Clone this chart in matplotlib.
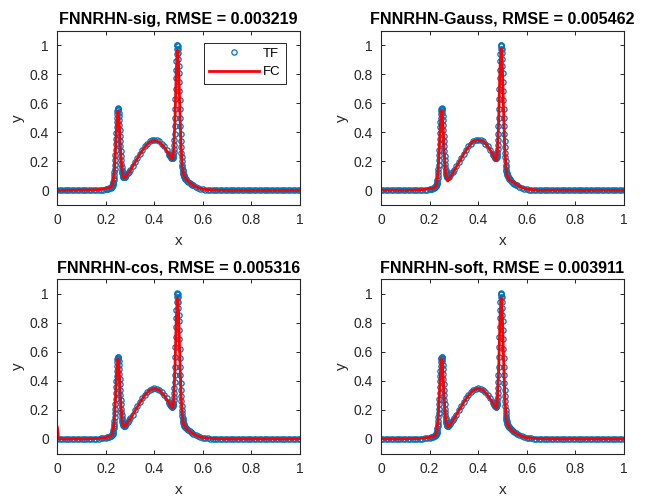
import matplotlib
matplotlib.use('Agg')
import matplotlib.pyplot as plt

plt.rcParams['font.family'] = ['Liberation Sans', 'DejaVu Sans']

# target function samples (TF)
tf_x = [0.00, 0.01, 0.02, 0.03, 0.04, 0.05, 0.06, 0.07, 0.08, 0.09,
        0.10, 0.11, 0.12, 0.13, 0.14, 0.15, 0.16, 0.17, 0.18, 0.19,
        0.200, 0.205, 0.210, 0.215, 0.220, 0.222, 0.224, 0.226, 0.227,
        0.228, 0.229, 0.230, 0.231, 0.232, 0.233, 0.234, 0.235, 0.236, 0.237,
        0.238, 0.239, 0.240, 0.241, 0.242, 0.243, 0.244, 0.245, 0.246, 0.247,
        0.248, 0.249, 0.250, 0.251, 0.252, 0.253, 0.254, 0.255, 0.256, 0.257,
        0.258, 0.259, 0.260, 0.261, 0.262, 0.263, 0.264, 0.265, 0.266, 0.267,
        0.268, 0.269, 0.270, 0.271, 0.272, 0.273, 0.274,
        0.276, 0.278, 0.280, 0.285, 0.290, 0.295, 0.300,
        0.31, 0.32, 0.33, 0.34, 0.35, 0.36, 0.37, 0.38, 0.39, 0.40,
        0.41, 0.42, 0.43, 0.44, 0.45, 0.46,
        0.462, 0.464, 0.466, 0.468, 0.470,
        0.471, 0.472, 0.473, 0.474, 0.475, 0.476, 0.477, 0.478, 0.479, 0.480,
        0.481, 0.482, 0.483, 0.484, 0.485, 0.486, 0.487, 0.488, 0.489, 0.490,
        0.491, 0.492, 0.493, 0.494, 0.495, 0.496, 0.497, 0.498, 0.499, 0.500,
        0.501, 0.502, 0.503, 0.504, 0.505, 0.506, 0.507, 0.508, 0.509, 0.510,
        0.511, 0.512, 0.513, 0.514, 0.515, 0.516, 0.517, 0.518, 0.519, 0.520,
        0.522, 0.524, 0.526, 0.528, 0.530, 0.535, 0.540, 0.545, 0.550, 0.555, 0.560,
        0.57, 0.58, 0.59, 0.60, 0.61, 0.62, 0.63, 0.64, 0.65, 0.66,
        0.67, 0.68, 0.69, 0.70, 0.71, 0.72, 0.73, 0.74, 0.75, 0.76,
        0.77, 0.78, 0.79, 0.80, 0.81, 0.82, 0.83, 0.84, 0.85, 0.86,
        0.87, 0.88, 0.89, 0.90, 0.91, 0.92, 0.93, 0.94, 0.95, 0.96,
        0.97, 0.98, 0.99, 1.00]
tf_y = [0.0, 0.0, 0.0, 0.0, 0.0, 0.0, 0.0, 0.0, 0.0, 0.0,
        0.0, 0.0, 0.0, 0.0005, 0.0008, 0.0012, 0.0019, 0.0029, 0.0043, 0.0064,
        0.009, 0.011, 0.013, 0.016, 0.019, 0.021, 0.024, 0.029, 0.033,
        0.0375, 0.0433, 0.0508, 0.0603, 0.0721, 0.0865, 0.1040, 0.1247, 0.1489, 0.1766,
        0.2075, 0.2417, 0.2784, 0.3172, 0.3570, 0.3967, 0.4349, 0.4704, 0.5017, 0.5279,
        0.5478, 0.5604, 0.5655, 0.5629, 0.5527, 0.5354, 0.5116, 0.4828, 0.4498, 0.4140,
        0.3769, 0.3395, 0.3032, 0.2691, 0.2374, 0.2090, 0.1838, 0.1622, 0.1440, 0.1291,
        0.1172, 0.1079, 0.1009, 0.0960, 0.0928, 0.0909, 0.0900,
        0.0902, 0.0924, 0.0954, 0.106, 0.117, 0.129, 0.141,
        0.168, 0.196, 0.224, 0.253, 0.279, 0.303, 0.323, 0.338, 0.347, 0.350,
        0.347, 0.338, 0.323, 0.303, 0.279, 0.253,
        0.2469, 0.2413, 0.2358, 0.2305, 0.2261,
        0.2243, 0.2230, 0.2227, 0.2235, 0.2259, 0.2306, 0.2382, 0.2494, 0.2653, 0.2865,
        0.3143, 0.3490, 0.3912, 0.4412, 0.4983, 0.5617, 0.6298, 0.7003, 0.7707, 0.829,
        0.889, 0.939, 0.976, 0.998, 1.004, 0.996, 0.976, 0.945, 0.904, 0.856,
        0.8087, 0.7484, 0.6854, 0.6215, 0.5586, 0.4978, 0.4406, 0.3877, 0.3398, 0.2971,
        0.2599, 0.2280, 0.2008, 0.1781, 0.1593, 0.1438, 0.1312, 0.1210, 0.1127, 0.1060,
        0.0965, 0.0896, 0.0844, 0.0798, 0.0758, 0.0674, 0.0591, 0.0523, 0.0455, 0.0399, 0.0343,
        0.0255, 0.0185, 0.0132, 0.0093, 0.0064, 0.0043, 0.0029, 0.0019, 0.0012, 0.0008,
        0.0, 0.0, 0.0, 0.0, 0.0, 0.0, 0.0, 0.0, 0.0, 0.0,
        0.0, 0.0, 0.0, 0.0, 0.0, 0.0, 0.0, 0.0, 0.0, 0.0,
        0.0, 0.0, 0.0, 0.0, 0.0, 0.0, 0.0, 0.0, 0.0, 0.0,
        0.0, 0.0, 0.0, 0.0]

# fitted curves (FC) of the four networks
fc_x = [0.0, 0.005, 0.01, 0.05, 0.1, 0.15, 0.18, 0.2, 0.21, 0.22,
        0.225, 0.23, 0.235, 0.24, 0.245, 0.25, 0.255, 0.26, 0.265, 0.27,
        0.275, 0.28, 0.29, 0.3, 0.32, 0.34, 0.36, 0.38, 0.4, 0.42,
        0.44, 0.46, 0.47, 0.475, 0.48, 0.485, 0.49, 0.495, 0.5, 0.505,
        0.51, 0.515, 0.52, 0.53, 0.54, 0.56, 0.58, 0.6, 0.65, 0.7,
        0.8, 0.9, 1.0]
fc_sig = [0.0, 0.0, 0.0, 0.001, 0.002, 0.004, 0.008, 0.014, 0.018, 0.024,
          0.032, 0.06, 0.13, 0.28, 0.46, 0.545, 0.47, 0.30, 0.165, 0.105,
          0.088, 0.092, 0.113, 0.137, 0.192, 0.249, 0.298, 0.333, 0.345, 0.334,
          0.300, 0.250, 0.220, 0.215, 0.28, 0.49, 0.82, 0.965, 0.85, 0.55,
          0.30, 0.165, 0.11, 0.08, 0.06, 0.035, 0.018, 0.008, 0.002, 0.0,
          0.0, 0.0, 0.0]
fc_gauss = [0.003, 0.002, 0.001, 0.002, 0.0, 0.004, 0.006, 0.016, 0.012, 0.02,
            0.03, 0.06, 0.13, 0.28, 0.47, 0.55, 0.47, 0.29, 0.14, 0.08,
            0.065, 0.078, 0.105, 0.135, 0.19, 0.25, 0.30, 0.34, 0.345, 0.34,
            0.305, 0.25, 0.215, 0.205, 0.27, 0.49, 0.83, 0.975, 0.86, 0.55,
            0.29, 0.16, 0.10, 0.07, 0.065, 0.04, 0.02, 0.01, 0.0, 0.002,
            0.0, 0.001, 0.0]
fc_cos = [0.08, 0.005, 0.0, 0.0, 0.0, 0.002, 0.005, 0.01, 0.014, 0.022,
          0.03, 0.06, 0.13, 0.28, 0.465, 0.55, 0.47, 0.30, 0.16, 0.10,
          0.085, 0.09, 0.113, 0.137, 0.193, 0.25, 0.30, 0.336, 0.347, 0.336,
          0.30, 0.25, 0.22, 0.215, 0.28, 0.49, 0.82, 0.97, 0.855, 0.55,
          0.30, 0.16, 0.105, 0.075, 0.058, 0.035, 0.018, 0.008, 0.002, 0.0,
          0.0, 0.0, 0.0]
fc_soft = [0.0, 0.0, 0.0, 0.0, 0.001, 0.003, 0.006, 0.012, 0.014, 0.02,
           0.03, 0.06, 0.13, 0.28, 0.465, 0.55, 0.47, 0.30, 0.16, 0.10,
           0.085, 0.09, 0.112, 0.137, 0.193, 0.25, 0.30, 0.336, 0.347, 0.336,
           0.30, 0.25, 0.22, 0.215, 0.28, 0.49, 0.82, 0.97, 0.85, 0.55,
           0.30, 0.16, 0.105, 0.075, 0.058, 0.035, 0.018, 0.008, 0.002, 0.0,
           0.0, 0.0, 0.0]

titles = ['FNNRHN-sig, RMSE = 0.003219', 'FNNRHN-Gauss, RMSE = 0.005462',
          'FNNRHN-cos, RMSE = 0.005316', 'FNNRHN-soft, RMSE = 0.003911']
fits = [fc_sig, fc_gauss, fc_cos, fc_soft]
ticks = [0, 0.2, 0.4, 0.6, 0.8, 1]
tick_labels = ['0', '0.2', '0.4', '0.6', '0.8', '1']

# axes boxes in figure fractions
boxes = [[0.0887, 0.5875, 0.3757, 0.351], [0.5898, 0.5875, 0.3757, 0.351],
         [0.0887, 0.0875, 0.3757, 0.351], [0.5898, 0.0875, 0.3757, 0.351]]

blue = '#0072BD'
dark = '#262626'

fig = plt.figure(figsize=(6.46, 4.97), dpi=100)

for i in range(4):
    ax = fig.add_axes(boxes[i])
    ax.plot(tf_x, tf_y, 'o', mfc='none', mec=blue, ms=3.8, mew=0.9, label='TF')
    ax.plot(fc_x, fits[i], '-', color='red', lw=2, label='FC')
    ax.set_xlim(0, 1)
    ax.set_ylim(-0.1, 1.1)
    ax.set_xticks(ticks)
    ax.set_xticklabels(tick_labels)
    ax.set_yticks(ticks)
    ax.set_yticklabels(tick_labels)
    ax.tick_params(direction='in', top=True, right=True, length=3, width=0.7,
                   labelsize=10, colors=dark, pad=6)
    for sp in ax.spines.values():
        sp.set_color(dark)
        sp.set_linewidth(0.8)
    ax.set_xlabel('x', fontsize=11, color=dark, labelpad=5)
    ax.set_ylabel('y', fontsize=11, color=dark, labelpad=3)
    ax.set_title(titles[i], fontsize=11.6, fontweight='bold', pad=5)
    if i == 0:
        leg = ax.legend(loc='upper right', bbox_to_anchor=(0.942, 0.931),
                        borderaxespad=0, fontsize=9.5, handlelength=3.8,
                        fancybox=False, framealpha=1, edgecolor=dark,
                        markerfirst=True, handletextpad=0.3, borderpad=0.4,
                        labelspacing=0.45)
        leg.get_frame().set_linewidth(0.7)
        for t in leg.get_texts():
            t.set_color('black')

fig.savefig('out.png', dpi=100)
